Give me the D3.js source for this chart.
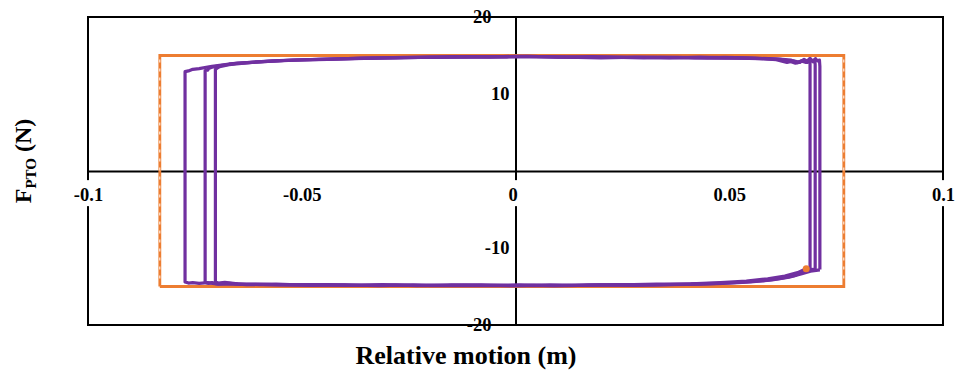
<!DOCTYPE html>
<html>
<head>
<meta charset="utf-8">
<script src="https://cdn.jsdelivr.net/npm/d3@7"></script>
<style>
  body { margin: 0; background: #fff; }
  text { font-family: "Liberation Serif", "Times New Roman", serif; font-weight: bold; fill: #000; }
</style>
</head>
<body>
<div id="chart"></div>
<script>
// tick labels
var xTicks = [-0.1, -0.05, 0, 0.05, 0.1],
    yTicks = [-20, -10, 10, 20];

// ideal PTO force (orange rectangle)
var idealLoop = [[-0.0832, -15], [0.0768, -15], [0.0768, 15], [-0.0832, 15], [-0.0832, -15]];

// measured PTO force, three cycles
var loop1 = [
  [0.0712, -12.8], [0.0712, 13.6], [0.0711, 14.4], [0.0706, 14.3], [0.0702, 14.6], [0.0697, 14.2],
  [0.069, 14.5], [0.068, 14.1], [0.0668, 14.3], [0.0655, 14.0], [0.064, 14.3], [0.062, 14.5],
  [0.058, 14.6], [0.052, 14.7], [0.045, 14.65], [0.038, 14.75], [0.03, 14.7], [0.022, 14.8],
  [0.014, 14.75], [0.006, 14.85], [0, 14.9], [-0.006, 14.8], [-0.014, 14.85], [-0.022, 14.75],
  [-0.03, 14.7], [-0.038, 14.6], [-0.046, 14.5], [-0.054, 14.35], [-0.061, 14.15], [-0.067, 13.9],
  [-0.071, 13.6], [-0.074, 13.3], [-0.0755, 13.2], [-0.0765, 13.0], [-0.0773, 12.9],
  [-0.0773, -14.4], [-0.0765, -14.55], [-0.0755, -14.5], [-0.074, -14.6], [-0.072, -14.5],
  [-0.07, -14.65], [-0.066, -14.7], [-0.06, -14.75], [-0.052, -14.8], [-0.044, -14.75],
  [-0.036, -14.85], [-0.028, -14.8], [-0.02, -14.9], [-0.012, -14.85], [-0.004, -14.9],
  [0.004, -14.85], [0.012, -14.9], [0.02, -14.8], [0.028, -14.85], [0.036, -14.75], [0.044, -14.7],
  [0.05, -14.55], [0.055, -14.4], [0.06, -14.15], [0.064, -13.8], [0.0672, -13.3], [0.069, -13.0],
  [0.0712, -12.85]
];
var loop2 = [
  [0.0701, -12.85], [0.0701, 13.8], [0.07, 14.5], [0.0695, 14.2], [0.069, 14.6], [0.0683, 14.1],
  [0.0672, 14.35], [0.066, 14.05], [0.0645, 14.4], [0.061, 14.55], [0.056, 14.65], [0.049, 14.75],
  [0.042, 14.7], [0.034, 14.8], [0.026, 14.75], [0.018, 14.85], [0.01, 14.8], [0.003, 14.9],
  [-0.004, 14.85], [-0.012, 14.8], [-0.02, 14.8], [-0.028, 14.7], [-0.036, 14.65], [-0.044, 14.5],
  [-0.052, 14.4], [-0.059, 14.2], [-0.065, 14.0], [-0.069, 13.7], [-0.0712, 13.45], [-0.0718, 13.3],
  [-0.072, 13.1], [-0.0726, 13.05], [-0.0726, -14.45], [-0.0718, -14.6], [-0.071, -14.5],
  [-0.0695, -14.7], [-0.067, -14.6], [-0.063, -14.75], [-0.056, -14.7], [-0.048, -14.85],
  [-0.04, -14.8], [-0.032, -14.9], [-0.024, -14.8], [-0.016, -14.85], [-0.008, -14.8], [0, -14.9],
  [0.008, -14.8], [0.016, -14.85], [0.024, -14.75], [0.032, -14.8], [0.04, -14.7], [0.047, -14.6],
  [0.053, -14.45], [0.058, -14.25], [0.062, -13.95], [0.0655, -13.55], [0.068, -12.75],
  [0.0701, -12.8]
];
var loop3 = [
  [0.0689, -12.75], [0.0689, 13.9], [0.0688, 14.6], [0.0682, 14.25], [0.0675, 14.5], [0.0665, 14.1],
  [0.065, 14.3], [0.0635, 14.1], [0.061, 14.45], [0.057, 14.6], [0.05, 14.7], [0.043, 14.8],
  [0.036, 14.7], [0.028, 14.8], [0.02, 14.7], [0.012, 14.8], [0.004, 14.85], [-0.002, 14.8],
  [-0.01, 14.85], [-0.018, 14.75], [-0.026, 14.75], [-0.034, 14.65], [-0.042, 14.55], [-0.05, 14.45],
  [-0.057, 14.3], [-0.063, 14.05], [-0.067, 13.8], [-0.0692, 13.55], [-0.0698, 13.35],
  [-0.0702, 13.2], [-0.0702, -14.4], [-0.0695, -14.55], [-0.068, -14.45], [-0.065, -14.65],
  [-0.061, -14.7], [-0.055, -14.8], [-0.047, -14.75], [-0.039, -14.85], [-0.031, -14.75],
  [-0.023, -14.9], [-0.015, -14.8], [-0.007, -14.85], [0.001, -14.8], [0.009, -14.9],
  [0.017, -14.8], [0.025, -14.8], [0.033, -14.7], [0.041, -14.65], [0.048, -14.5], [0.054, -14.3],
  [0.059, -14.0], [0.063, -13.65], [0.066, -13.2], [0.068, -12.7]
];
var markerPoint = [0.068, -12.7];

var width = 959,
    height = 376,
    margin = {top: 17, right: 16, bottom: 51, left: 88};

var svg = d3.select("#chart").append("svg")
    .attr("width", width)
    .attr("height", height);

var x = d3.scaleLinear().domain([-0.1, 0.1]).range([margin.left, width - margin.right]),
    y = d3.scaleLinear().domain([-20, 20]).range([height - margin.bottom, margin.top]);

var line = d3.line()
    .x(function (d) { return x(d[0]); })
    .y(function (d) { return y(d[1]); });

// plot border
svg.append("rect")
    .attr("x", x(-0.1))
    .attr("y", y(20))
    .attr("width", x(0.1) - x(-0.1))
    .attr("height", y(-20) - y(20))
    .attr("fill", "none")
    .attr("stroke", "#000")
    .attr("stroke-width", 2);

// axes through the origin, plain hyphen minus like the original
var yAxis = svg.append("g")
    .attr("transform", "translate(" + x(0) + ",0)")
    .call(d3.axisLeft(y).tickValues(yTicks).tickSize(0).tickSizeOuter(0).tickPadding(24)
        .tickFormat(function (d) { return String(d); }));
yAxis.select(".domain").attr("stroke", "#000").attr("stroke-width", 2);
// the inner labels sit closer to the axis than the end ones
yAxis.selectAll(".tick text")
    .attr("x", function (d) { return Math.abs(d) === 10 ? -6 : -24; });

var xAxis = svg.append("g")
    .attr("transform", "translate(0," + y(0) + ")")
    .call(d3.axisBottom(x).tickValues(xTicks).tickSize(0).tickSizeOuter(0).tickPadding(17)
        .tickFormat(function (d) { return String(d); }));
xAxis.select(".domain").attr("stroke", "#000").attr("stroke-width", 2);
xAxis.selectAll(".tick text")
    .attr("dx", function (d) { return d === 0 ? -3 : 0; });

svg.selectAll(".tick text")
    .attr("font-family", "Liberation Serif, Times New Roman, serif")
    .attr("font-weight", "bold")
    .attr("font-size", 18.5)
    .attr("fill", "#000");

// white box behind x labels hides the lines under them
xAxis.selectAll(".tick").each(function () {
    var t = d3.select(this).select("text"),
        b = t.node().getBBox();
    d3.select(this).insert("rect", "text")
        .attr("x", b.x - 1).attr("y", b.y - 5)
        .attr("width", b.width + 2).attr("height", b.height + 6)
        .attr("fill", "#fff");
});

// ideal force
svg.append("path")
    .datum(idealLoop)
    .attr("d", line)
    .attr("fill", "none")
    .attr("stroke", "#ED7D31")
    .attr("stroke-width", 2.8);

// dashed overlay on the vertical edges
[idealLoop[0][0], idealLoop[1][0]].forEach(function (xv) {
    svg.append("line")
        .attr("x1", x(xv)).attr("x2", x(xv))
        .attr("y1", y(15) + 4).attr("y2", y(-15) - 4)
        .attr("stroke", "#fff")
        .attr("stroke-width", 1)
        .attr("stroke-dasharray", "3,6");
});

// measured force
[loop1, loop2, loop3].forEach(function (loop) {
    svg.append("path")
        .datum(loop)
        .attr("d", line)
        .attr("fill", "none")
        .attr("stroke", "#7030A0")
        .attr("stroke-width", 3.2)
        .attr("stroke-linejoin", "round");
});

svg.append("circle")
    .attr("cx", x(markerPoint[0]))
    .attr("cy", y(markerPoint[1]))
    .attr("r", 3.5)
    .attr("fill", "#ED7D31");

// axis titles
svg.append("text")
    .attr("x", 466)
    .attr("y", 364)
    .attr("text-anchor", "middle")
    .attr("font-size", 26)
    .text("Relative motion (m)");

var yTitle = svg.append("text")
    .attr("transform", "translate(31,161) rotate(-90)")
    .attr("text-anchor", "middle")
    .attr("font-size", 24);
yTitle.append("tspan").text("F");
yTitle.append("tspan").attr("font-size", 15).attr("dy", 5).text("PTO");
yTitle.append("tspan").attr("dy", -5).text(" (N)");
</script>
</body>
</html>
